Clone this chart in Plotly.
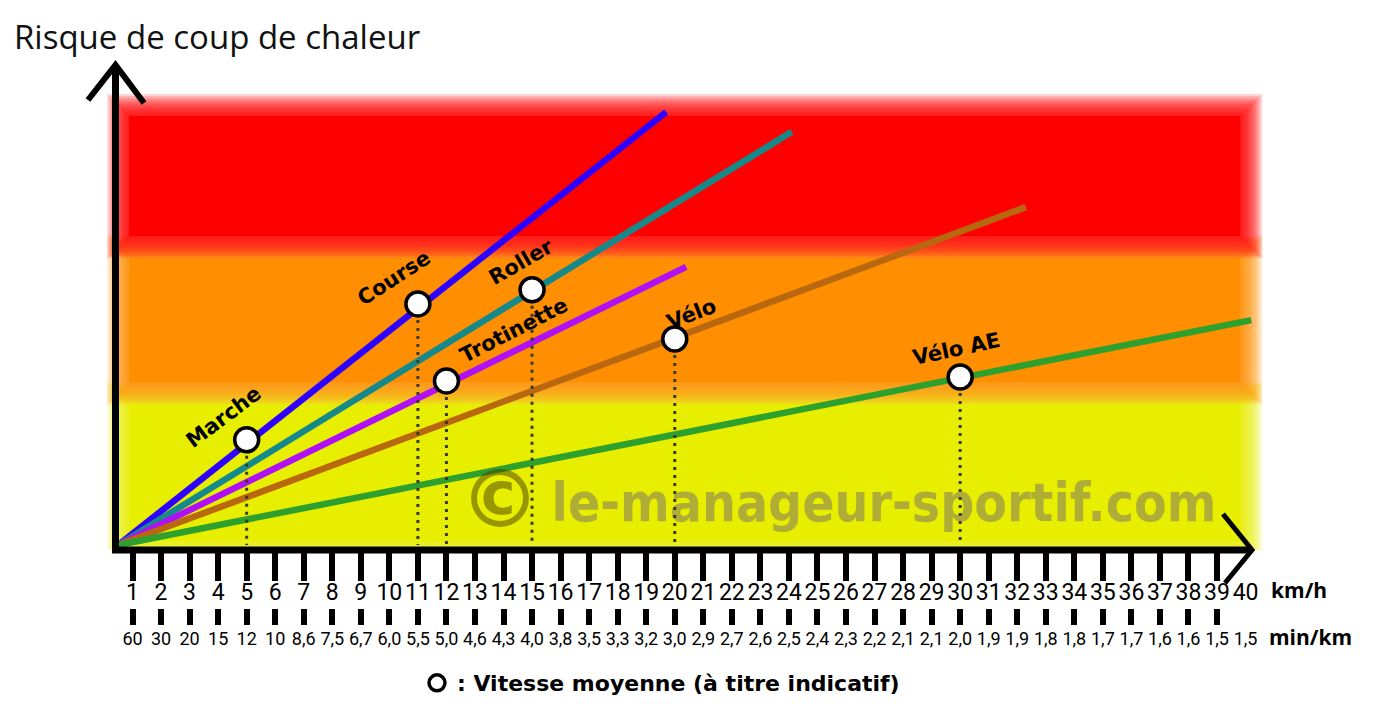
import plotly.graph_objects as go

# ---------------- data ----------------
activities = ["Marche", "Course", "Roller", "Trotinette", "Vélo", "Vélo AE"]
avg_speed_kmh = [5, 11, 15, 12, 20, 30]
avg_risk = [23.9, 54.8, 58.0, 37.3, 46.8, 38.2]

line_groups = ["Marche / Course", "Roller", "Trotinette", "Vélo", "Vélo AE"]
line_start_speed = 0.5
line_start_risk = 0.0
line_end_speed = [19.7, 24.1, 20.4, 32.3, 40.2]
line_end_risk = [98.4, 93.9, 63.2, 76.8, 51.1]

kmh_ticks = list(range(1, 41))
minkm_labels = ["60", "30", "20", "15", "12", "10", "8,6", "7,5", "6,7", "6,0",
                "5,5", "5,0", "4,6", "4,3", "4,0", "3,8", "3,5", "3,3", "3,2", "3,0",
                "2,9", "2,7", "2,6", "2,5", "2,4", "2,3", "2,2", "2,1", "2,1", "2,0",
                "1,9", "1,9", "1,8", "1,8", "1,7", "1,7", "1,6", "1,6", "1,5", "1,5"]

risk_zones = ["faible", "moyen", "élevé"]
zone_bounds = [0, 34.5, 67.7, 100]
zone_speed_range = [0.5, 40.2]

# ---------------- style / geometry ----------------
W, H = 1376, 704
PLOT_BOTTOM_PX = 608          # bottom of plotting area (px from top)
AXIS_PX = 550                 # x axis line position (px from top)
PX_PER_KMH = 28.54
PX_PER_RISK = 4.4
KMH1_PX = 132.5               # pixel of 1 km/h
RISK0_PX = 545                # pixel of risk 0


def px2x(px):
    return 1 + (px - KMH1_PX) / PX_PER_KMH


def py2y(py):
    return (RISK0_PX - py) / PX_PER_RISK


def dxp(px):
    return px / PX_PER_KMH


def dyp(px):
    return px / PX_PER_RISK


def ppx(px):
    return px / W


def ppy(py):
    return (PLOT_BOTTOM_PX - py) / PLOT_BOTTOM_PX


line_colors = ["#2E00FF", "#168A8A", "#B010F5", "#B9680F", "#2EA02E"]
zone_colors = ["#E8F000", "#FF9000", "#FF0000"]
label_style = {
    "Marche": dict(xshift=-23, yshift=23, angle=-37),
    "Course": dict(xshift=-24, yshift=26, angle=-33),
    "Roller": dict(xshift=-11, yshift=28, angle=-30),
    "Trotinette": dict(xshift=68, yshift=51, angle=-27),
    "Vélo": dict(xshift=17, yshift=25, angle=-21),
    "Vélo AE": dict(xshift=-4, yshift=28, angle=-12),
}

shapes = []


def soft_rect(x0, x1, y0, y1, color, blur=11, steps=11):
    shapes.append(dict(
        type="rect", xref="x", yref="y", layer="below",
        x0=x0 + dxp(blur), x1=x1 - dxp(blur), y0=y0 + dyp(blur), y1=y1 - dyp(blur),
        fillcolor=color, opacity=1.0, line_width=0))
    for i in range(steps + 1):
        off = -blur + 2 * blur * i / steps
        shapes.append(dict(
            type="rect", xref="x", yref="y", layer="below",
            x0=x0 - dxp(off), x1=x1 + dxp(off),
            y0=y0 - dyp(off), y1=y1 + dyp(off),
            fillcolor=color, opacity=0.17, line_width=0))


for i, zone in enumerate(risk_zones):
    lo = zone_bounds[i] - (dyp(7) if i == 0 else 0)
    soft_rect(zone_speed_range[0], zone_speed_range[1], lo, zone_bounds[i + 1], zone_colors[i])

# axes lines + arrow heads (paper coordinates so nothing gets clipped)
shapes.append(dict(type="line", xref="paper", yref="paper", layer="above",
                   x0=ppx(112), x1=ppx(1252), y0=ppy(AXIS_PX), y1=ppy(AXIS_PX),
                   line=dict(color="black", width=7)))
shapes.append(dict(type="line", xref="paper", yref="paper", layer="above",
                   x0=ppx(115.5), x1=ppx(115.5), y0=ppy(553), y1=ppy(68),
                   line=dict(color="black", width=7)))


def chevron(pts, width):
    path = "M {} {} L {} {} L {} {}".format(
        ppx(pts[0][0]), ppy(pts[0][1]), ppx(pts[1][0]), ppy(pts[1][1]),
        ppx(pts[2][0]), ppy(pts[2][1]))
    shapes.append(dict(type="path", xref="paper", yref="paper", layer="above", path=path,
                       line=dict(color="black", width=width)))


chevron([(1223, 514), (1252, 550), (1225, 583)], 5)
chevron([(88, 100), (115.5, 65), (144, 103)], 6)

fig = go.Figure()

# lines
for name, xe, ye, c in zip(line_groups, line_end_speed, line_end_risk, line_colors):
    fig.add_trace(go.Scatter(x=[line_start_speed, xe], y=[line_start_risk, ye], mode="lines",
                             line=dict(color=c, width=6.5), name=name,
                             showlegend=False, hoverinfo="skip"))

# watermark
fig.add_trace(go.Scatter(x=[px2x(500)], y=[py2y(507)], mode="text", text=["<b>©</b>"],
                         textfont=dict(family="DejaVu Sans", size=80, color="rgba(70,60,0,0.5)"),
                         showlegend=False, hoverinfo="skip"))
fig.add_trace(go.Scatter(x=[px2x(884)], y=[py2y(508)], mode="text",
                         text=["<b>le-manageur-sportif.com</b>"],
                         textfont=dict(family="DejaVu Sans Condensed", size=53,
                                       color="rgba(130,120,100,0.55)"),
                         showlegend=False, hoverinfo="skip"))

# dotted drop lines
dx_, dy_ = [], []
for s, r in zip(avg_speed_kmh, avg_risk):
    dx_ += [s, s, None]
    dy_ += [r, 0, None]
fig.add_trace(go.Scatter(x=dx_, y=dy_, mode="lines",
                         line=dict(color="#3A3A2A", width=3, dash="3px,5px"),
                         showlegend=False, hoverinfo="skip"))

# average-speed markers
fig.add_trace(go.Scatter(x=avg_speed_kmh, y=avg_risk, mode="markers",
                         marker=dict(size=24, color="white", line=dict(color="black", width=3.5)),
                         name=": Vitesse moyenne (à titre indicatif)", text=activities,
                         hovertemplate="%{text}: %{x} km/h<extra></extra>"))

# dummy traces so overlay axes exist
for ax in ["x2", "x3", "x4"]:
    fig.add_trace(go.Scatter(x=[1], y=[-100], xaxis=ax, yaxis="y", mode="markers",
                             marker=dict(opacity=0), showlegend=False, hoverinfo="skip"))

annotations = []
for name, s, r in zip(activities, avg_speed_kmh, avg_risk):
    st = label_style[name]
    annotations.append(dict(x=s, y=r, xref="x", yref="y", text=name, showarrow=False,
                            xshift=st["xshift"], yshift=st["yshift"], textangle=st["angle"],
                            font=dict(family="DejaVu Sans", size=21, color="black", weight="bold")))

annotations.append(dict(x=ppx(12), y=ppy(37), xref="paper", yref="paper", xanchor="left",
                        yanchor="middle", showarrow=False, text="Risque de coup de chaleur",
                        font=dict(family="Open Sans", size=33, color="#111111")))
annotations.append(dict(x=ppx(1269), y=ppy(590), xref="paper", yref="paper", xanchor="left",
                        yanchor="middle", showarrow=False, text="km/h",
                        font=dict(family="Open Sans", size=21, color="black", weight="bold")))
annotations.append(dict(x=ppx(1267), y=ppy(637), xref="paper", yref="paper", xanchor="left",
                        yanchor="middle", showarrow=False, text="min/km",
                        font=dict(family="Open Sans", size=21, color="black", weight="bold")))

xr = [px2x(0), px2x(W)]
common = dict(range=xr, showgrid=False, zeroline=False, showline=False, fixedrange=True)

fig.update_layout(
    width=W, height=H,
    margin=dict(l=0, r=0, t=0, b=H - PLOT_BOTTOM_PX, pad=0),
    paper_bgcolor="white", plot_bgcolor="rgba(0,0,0,0)",
    shapes=shapes, annotations=annotations,
    xaxis=dict(**common, anchor="y", tickmode="array", tickvals=kmh_ticks,
               ticktext=[str(v) for v in kmh_ticks], ticks="", tickangle=0,
               ticklabelstandoff=26,
               tickfont=dict(family="Roboto", size=23, color="black")),
    xaxis3=dict(**common, overlaying="x", anchor="y", side="bottom", tickmode="array",
                tickvals=kmh_ticks[:-1], ticks="outside", ticklen=30, tickwidth=6,
                tickcolor="black", showticklabels=False),
    xaxis2=dict(**common, overlaying="x", anchor="free", position=0, side="bottom",
                tickmode="array", tickvals=kmh_ticks, ticktext=minkm_labels, ticks="",
                tickangle=0, ticklabelstandoff=18,
                tickfont=dict(family="Roboto", size=18, color="black")),
    xaxis4=dict(**common, overlaying="x", anchor="free", position=0, side="bottom",
                tickmode="array", tickvals=kmh_ticks[:-1], ticks="outside", ticklen=16,
                tickwidth=6, tickcolor="black", showticklabels=False),
    yaxis=dict(range=[py2y(AXIS_PX), py2y(0)], domain=[(PLOT_BOTTOM_PX - AXIS_PX) / PLOT_BOTTOM_PX, 1],
               visible=False, fixedrange=True),
    showlegend=True,
    legend=dict(x=ppx(417), y=ppy(683), xanchor="left", yanchor="middle",
                bgcolor="rgba(0,0,0,0)", font=dict(family="DejaVu Sans", size=22,
                                                    color="black", weight="bold")),
)

fig.write_html("out.html")
